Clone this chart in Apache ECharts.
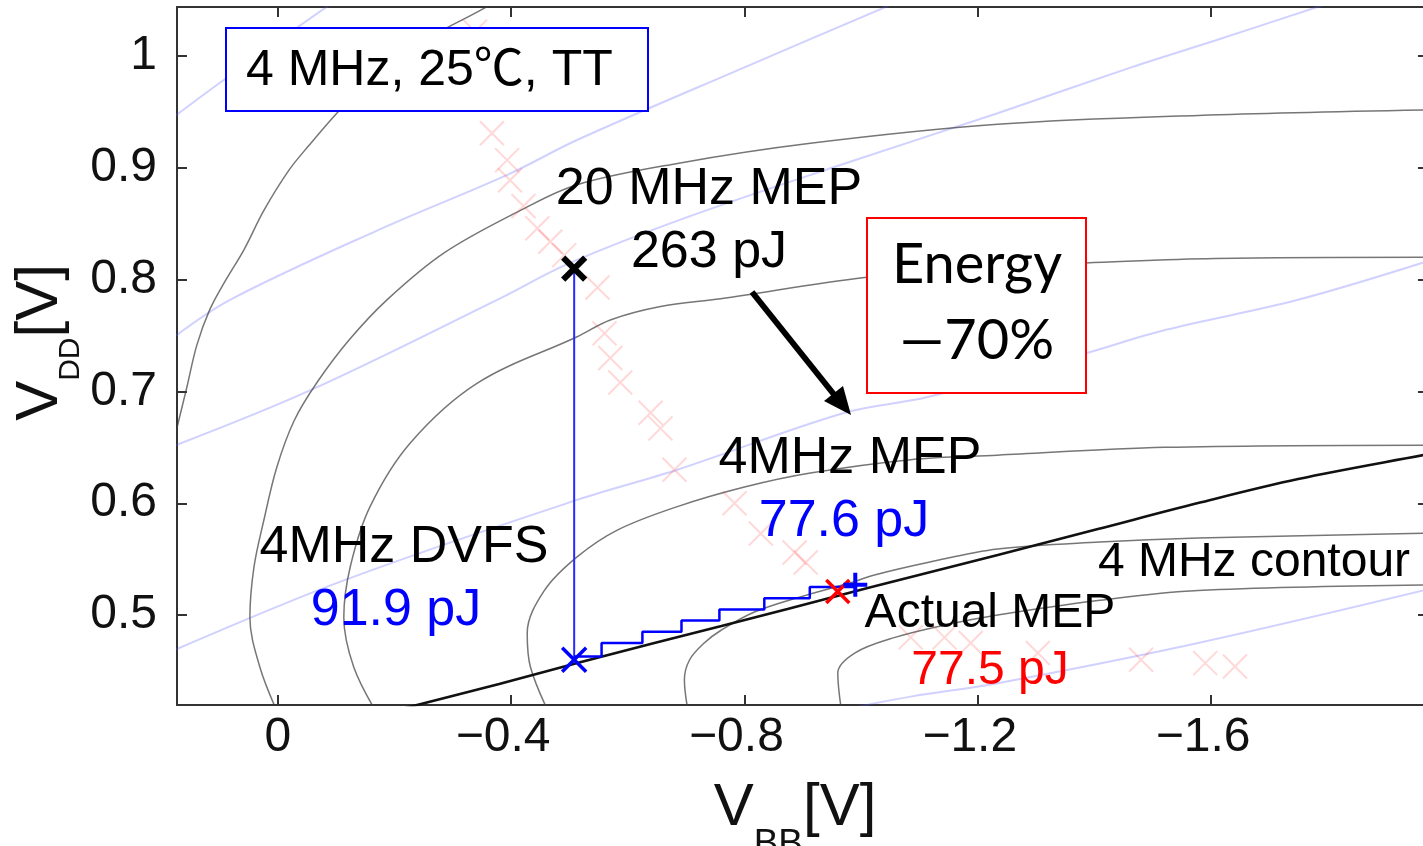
<!DOCTYPE html>
<html>
<head>
<meta charset="utf-8">
<script src="https://cdn.jsdelivr.net/npm/echarts@6/dist/echarts.min.js"></script>
<style>
  html, body { margin: 0; padding: 0; background: #ffffff; }
  #chart { width: 1423px; height: 846px; }
</style>
</head>
<body>
<div id="chart"></div>
<script>
// ---- axis ticks ----
const vbbTicks = [0, -0.4, -0.8, -1.2, -1.6];
const vddTicks = [0.5, 0.6, 0.7, 0.8, 0.9, 1.0];

// ---- energy contours, [V_BB, V_DD] ----
const contourA = [[-0.39, 1.055], [-0.354, 1.043], [-0.276, 1.0215], [-0.208, 1.001], [-0.148, 0.974], [-0.101, 0.949], [-0.053, 0.920], [-0.019, 0.898], [0.024, 0.862], [0.058, 0.827], [0.089, 0.800], [0.117, 0.773], [0.139, 0.7415], [0.156, 0.704], [0.170, 0.674], [0.180, 0.652]];
const contourB = [[0.0, 0.412], [0.031, 0.4535], [0.048, 0.498], [0.041, 0.543], [0.024, 0.585], [0.002, 0.632], [-0.028, 0.674], [-0.067, 0.708], [-0.122, 0.746], [-0.187, 0.782], [-0.285, 0.824], [-0.416, 0.862], [-0.513, 0.885], [-0.685, 0.904], [-0.913, 0.922], [-1.234, 0.939], [-1.578, 0.947], [-1.98, 0.952]];
const contourC = [[-0.17, 0.412], [-0.130, 0.4535], [-0.113, 0.498], [-0.124, 0.543], [-0.158, 0.597], [-0.227, 0.654], [-0.342, 0.7075], [-0.513, 0.749], [-0.570, 0.764], [-0.656, 0.776], [-0.759, 0.783], [-1.006, 0.802], [-1.234, 0.812], [-1.385, 0.815], [-1.607, 0.819], [-1.98, 0.820]];
const contourD = [[-0.465, 0.412], [-0.433, 0.4535], [-0.4275, 0.484], [-0.457, 0.522], [-0.513, 0.552], [-0.582, 0.576], [-0.685, 0.597], [-0.800, 0.6145], [-0.913, 0.627], [-1.085, 0.639], [-1.234, 0.643], [-1.521, 0.650], [-1.98, 0.652]];
const contourE = [[-0.704, 0.412], [-0.697, 0.442], [-0.706, 0.460], [-0.731, 0.475], [-0.7605, 0.4866], [-0.817, 0.5027], [-0.894, 0.516], [-0.980, 0.5286], [-1.023, 0.5358], [-1.118, 0.5474], [-1.234, 0.559], [-1.409, 0.5653], [-1.578, 0.5689], [-1.98, 0.5733]];
const contourF = [[-0.967, 0.412], [-0.960, 0.448], [-0.989, 0.466], [-1.058, 0.480], [-1.143, 0.491], [-1.234, 0.500], [-1.406, 0.513], [-1.578, 0.522], [-1.98, 0.527]];

// ---- 4 MHz operating contour ----
const contour4MHz = [[-0.173, 0.4106], [-0.2386, 0.4195], [-0.3794, 0.4383], [-0.5133, 0.4571], [-0.6455, 0.4750], [-0.7605, 0.4902], [-0.8738, 0.5054], [-1.0112, 0.5242], [-1.2343, 0.5537], [-1.406, 0.5769], [-1.5777, 0.6002], [-1.7494, 0.6217], [-1.9639, 0.6431], [-1.993, 0.6458]];

// ---- iso-frequency lines ----
const freqLine0 = [[0.18, 0.945], [0.100, 0.976], [-0.045, 1.030], [-0.10, 1.05]];
const freqLine1 = [[0.18, 0.748], [0.082, 0.782], [-0.170, 0.844], [-0.398, 0.895], [-0.513, 0.925], [-0.800, 0.990], [-1.06, 1.048]];
const freqLine2 = [[0.18, 0.651], [-0.055, 0.701], [-0.376, 0.782], [-0.501, 0.815], [-0.702, 0.856], [-0.972, 0.904], [-1.234, 0.949], [-1.463, 0.990], [-1.607, 1.014], [-1.80, 1.047]];
const freqLine3 = [[0.18, 0.468], [-0.113, 0.531], [-0.513, 0.603], [-0.685, 0.630], [-0.972, 0.681], [-1.114, 0.695], [-1.384, 0.734], [-1.521, 0.755], [-1.749, 0.782], [-1.98, 0.818]];
const freqLine4 = [[-0.985, 0.417], [-1.085, 0.427], [-1.234, 0.439], [-1.578, 0.475], [-1.98, 0.524]];

// ---- MEP track over frequency ----
const mepTrackVbb = [-0.338, -0.367, -0.393, -0.398, -0.421, -0.445, -0.467, -0.491, -0.548, -0.560, -0.570, -0.587, -0.639, -0.656, -0.680, -0.783, -0.828, -0.886, -0.905, -1.085, -1.143, -1.188, -1.303, -1.480, -1.590, -1.641];
const mepTrackVdd = [1.022, 0.931, 0.907, 0.889, 0.866, 0.846, 0.834, 0.822, 0.793, 0.752, 0.730, 0.708, 0.681, 0.667, 0.630, 0.600, 0.573, 0.556, 0.547, 0.480, 0.480, 0.475, 0.466, 0.460, 0.457, 0.454];

// ---- key operating points ----
const mep20MHz = [-0.508, 0.810];
const dvfs4MHz = [-0.508, 0.460];
const mepActual = [-0.960, 0.521];
const mep4MHz = [-0.990, 0.527];

// ---- body-bias tracking staircase ----
const stairVbb = [-0.508, -0.555, -0.625, -0.692, -0.757, -0.834, -0.912, -0.990];
const stairVdd = [0.463, 0.475, 0.485, 0.495, 0.505, 0.515, 0.525, 0.525];

const SANS = '"Liberation Sans", Arial, Helvetica, sans-serif';
const X_PATH = 'path://M0,0L10,10M10,0L0,10';
const PLUS_PATH = 'path://M5,0L5,10M0,5L10,5';

const zip = (xs, ys) => xs.map((x, i) => [x, ys[i]]);

function curve(data, color, width, z) {
  return {
    type: 'line', data, showSymbol: false, symbol: 'none', smooth: 0.35,
    silent: true, z, lineStyle: { color, width }
  };
}
function marker(point, path, size, color, width, z) {
  return {
    type: 'scatter', data: [point], symbol: path, symbolSize: size, silent: true, z,
    itemStyle: { color: 'rgba(0,0,0,0)', borderColor: color, borderWidth: width, opacity: 1 }
  };
}

const GRAY = 'rgba(60,60,60,0.7)';
const FAINT_BLUE = 'rgba(90,90,255,0.28)';

const axisCommonX = {
  type: 'value', inverse: true, min: -1.972, max: 0.173,
  splitLine: { show: false },
  axisLine: { show: true, onZero: false, lineStyle: { color: '#333', width: 2 } },
  axisTick: { show: true, inside: true, length: 10, customValues: vbbTicks, lineStyle: { color: '#333', width: 2 } }
};
const axisCommonY = {
  type: 'value', min: 0.4195, max: 1.044,
  splitLine: { show: false },
  axisLine: { show: true, onZero: false, lineStyle: { color: '#333', width: 2 } },
  axisTick: { show: true, inside: true, length: 10, customValues: vddTicks, lineStyle: { color: '#333', width: 2 } }
};

const labelText = { fontSize: 48, fontFamily: SANS, color: '#111' };

const option = {
  animation: false,
  backgroundColor: '#ffffff',
  grid: { left: 177, right: -5, top: 7, bottom: 141, containLabel: false, outerBoundsMode: 'none' },
  xAxis: [
    Object.assign({}, axisCommonX, {
      position: 'bottom',
      axisLabel: {
        show: true, customValues: vbbTicks, margin: 9,
        formatter: v => Math.abs(v) < 1e-9 ? '{z|0}' : '{n|\u2212' + Math.abs(v).toFixed(1) + '}',
        rich: {
          z: Object.assign({}, labelText),
          n: Object.assign({ padding: [0, 16, 0, 0] }, labelText)
        }
      },
      name: '{v|V}{s|BB}{e|[V]}',
      nameLocation: 'middle',
      nameGap: 73,
      nameTextStyle: {
        rich: {
          v: { fontSize: 60, lineHeight: 60, fontFamily: SANS, color: '#111', verticalAlign: 'top' },
          s: { fontSize: 37, lineHeight: 37, fontFamily: SANS, color: '#111', verticalAlign: 'top', padding: [48, 0, 0, 0] },
          e: { fontSize: 60, lineHeight: 60, fontFamily: SANS, color: '#111', verticalAlign: 'top', padding: [0, 15, 0, 0] }
        }
      }
    }),
    Object.assign({}, axisCommonX, { position: 'top', axisLabel: { show: false } })
  ],
  yAxis: [
    Object.assign({}, axisCommonY, {
      position: 'left',
      axisLabel: {
        show: true, customValues: vddTicks, margin: 20,
        formatter: v => Math.abs(v - 1) < 1e-9 ? '1' : v.toFixed(1),
        fontSize: 48, fontFamily: SANS, color: '#111'
      },
      name: '{b|V}{s|DD}{v|[V]}',
      nameLocation: 'middle',
      nameRotate: 90,
      nameGap: 107,
      nameMoveOverlap: false,
      nameTextStyle: {
        rich: {
          b: { fontSize: 60, lineHeight: 60, fontFamily: SANS, color: '#111', verticalAlign: 'top', padding: [0, 0, 0, 27] },
          v: { fontSize: 60, lineHeight: 60, fontFamily: SANS, color: '#111', verticalAlign: 'top' },
          s: { fontSize: 30, lineHeight: 30, fontFamily: SANS, color: '#111', verticalAlign: 'top', padding: [46, 0, 0, 0] }
        }
      }
    }),
    Object.assign({}, axisCommonY, { position: 'right', axisLabel: { show: false } })
  ],
  series: [
    curve(freqLine0, FAINT_BLUE, 2, 1),
    curve(freqLine1, FAINT_BLUE, 2, 1),
    curve(freqLine2, FAINT_BLUE, 2, 1),
    curve(freqLine3, FAINT_BLUE, 2, 1),
    curve(freqLine4, FAINT_BLUE, 2, 1),
    curve(contourA, GRAY, 1.5, 1),
    curve(contourB, GRAY, 1.5, 1),
    curve(contourC, GRAY, 1.5, 1),
    curve(contourD, GRAY, 1.5, 1),
    curve(contourE, GRAY, 1.5, 1),
    curve(contourF, GRAY, 1.5, 1),
    curve(contour4MHz, '#111', 2.6, 2),
    {
      type: 'scatter', data: zip(mepTrackVbb, mepTrackVdd), symbol: X_PATH, symbolSize: 24,
      silent: true, z: 3,
      itemStyle: { color: 'rgba(0,0,0,0)', borderColor: 'rgba(255,50,50,0.24)', borderWidth: 2 }
    },
    {
      type: 'line', data: [mep20MHz, dvfs4MHz], showSymbol: false, symbol: 'none',
      silent: true, z: 4, lineStyle: { color: '#2a2aff', width: 2 }
    },
    {
      type: 'line', data: zip(stairVbb, stairVdd), step: 'end', showSymbol: false, symbol: 'none',
      silent: true, z: 4, lineStyle: { color: '#0000ff', width: 2.5 }
    },
    marker(mep20MHz, X_PATH, 22, '#000', 6, 6),
    marker(dvfs4MHz, X_PATH, 24, '#0000ff', 3.5, 6),
    marker(mepActual, X_PATH, 23, '#ff0000', 3.5, 6),
    marker(mep4MHz, PLUS_PATH, 24, '#0000ff', 4, 6)
  ],
  graphic: [
    { type: 'rect', z: 100, shape: { x: 226, y: 28, width: 422, height: 83 },
      style: { fill: '#ffffff', stroke: '#0000ff', lineWidth: 2 } },
    { type: 'text', z: 101, style: { text: '4 MHz, 25\u2103, TT', x: 246, y: 71, align: 'left', verticalAlign: 'middle',
      fill: '#000', font: '50px "Liberation Sans", "Noto Sans CJK JP", sans-serif' } },

    { type: 'rect', z: 100, shape: { x: 867, y: 218, width: 219, height: 175 },
      style: { fill: '#ffffff', stroke: '#ff0000', lineWidth: 2 } },
    { type: 'text', z: 101, style: { text: 'Energy', x: 977, y: 265, align: 'center', verticalAlign: 'middle',
      fill: '#000', font: '56px Lato, "Open Sans", sans-serif' } },
    { type: 'text', z: 101, style: { text: '\u201470%', x: 977, y: 341, align: 'center', verticalAlign: 'middle',
      fill: '#000', font: '56px Lato, "Open Sans", sans-serif' } },

    { type: 'line', z: 100, shape: { x1: 752, y1: 292, x2: 836, y2: 397 },
      style: { stroke: '#000', lineWidth: 6 } },
    { type: 'polygon', z: 100, shape: { points: [[851, 415], [824, 401], [843, 386]] },
      style: { fill: '#000' } },

    { type: 'text', z: 101, style: { text: '20 MHz MEP', x: 709, y: 190, align: 'center', verticalAlign: 'middle', fill: '#000', font: '52px ' + SANS } },
    { type: 'text', z: 101, style: { text: '263 pJ', x: 709, y: 253, align: 'center', verticalAlign: 'middle', fill: '#000', font: '52px ' + SANS } },
    { type: 'text', z: 101, style: { text: '4MHz MEP', x: 850, y: 459, align: 'center', verticalAlign: 'middle', fill: '#000', font: '52px ' + SANS } },
    { type: 'text', z: 101, style: { text: '77.6 pJ', x: 844, y: 522, align: 'center', verticalAlign: 'middle', fill: '#0000ff', font: '52px ' + SANS } },
    { type: 'text', z: 101, style: { text: '4MHz DVFS', x: 404, y: 548, align: 'center', verticalAlign: 'middle', fill: '#000', font: '52px ' + SANS } },
    { type: 'text', z: 101, style: { text: '91.9 pJ', x: 396, y: 611, align: 'center', verticalAlign: 'middle', fill: '#0000ff', font: '52px ' + SANS } },
    { type: 'text', z: 101, style: { text: '4 MHz contour', x: 1254, y: 563, align: 'center', verticalAlign: 'middle', fill: '#000', font: '48px ' + SANS } },
    { type: 'text', z: 101, style: { text: 'Actual MEP', x: 990, y: 614, align: 'center', verticalAlign: 'middle', fill: '#000', font: '48px ' + SANS } },
    { type: 'text', z: 101, style: { text: '77.5 pJ', x: 990, y: 671, align: 'center', verticalAlign: 'middle', fill: '#ff0000', font: '48px ' + SANS } }
  ]
};

const chart = echarts.init(document.getElementById('chart'), null, { renderer: 'canvas' });
chart.setOption(option);
</script>
</body>
</html>
